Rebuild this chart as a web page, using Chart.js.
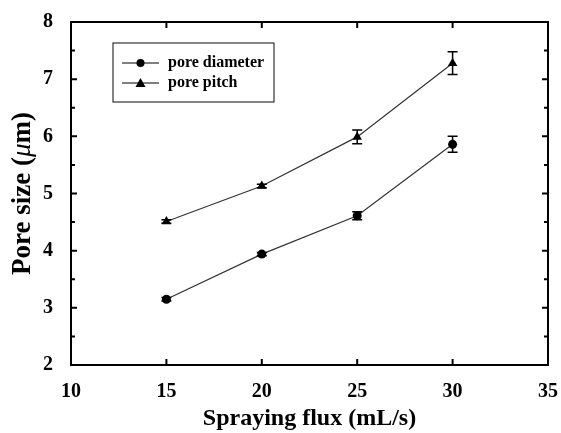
<!DOCTYPE html>
<html lang="en">
<head>
    <meta charset="UTF-8">
    <title>Pore size vs spraying flux</title>
    <style>
        html, body { margin: 0; padding: 0; background: #fff; }
        #wrap { width: 561px; height: 433px; }
    </style>
</head>
<body>
    <div id="wrap"><canvas id="pore-chart" width="561" height="433"></canvas></div>

    <script src="https://cdn.jsdelivr.net/npm/chart.js"></script>
    <script>
        // data
        const flux = [15, 20, 25, 30];
        const poreDiameter = [3.15, 3.94, 4.61, 5.86];
        const diameterErr = [0.03, 0.03, 0.07, 0.14];
        const porePitch = [4.51, 5.13, 5.99, 7.28];
        const pitchErr = [0.03, 0.03, 0.12, 0.20];
        const xTicks = [10, 15, 20, 25, 30, 35];
        const yTicks = [2, 3, 4, 5, 6, 7, 8];

        const serif = '"Liberation Serif", "DejaVu Serif", serif';

        function toPoints(xs, ys) {
            return xs.map((x, i) => ({ x: x, y: ys[i] }));
        }

        // error bars, inward ticks, frame, legend and y title
        const decorations = {
            id: 'decorations',
            afterDatasetsDraw(chart) {
                const ctx = chart.ctx;
                const xs = chart.scales.x, ys = chart.scales.y;
                const a = chart.chartArea;
                ctx.save();

                // error bars
                ctx.strokeStyle = '#000';
                ctx.lineWidth = 1.5;
                [[poreDiameter, diameterErr], [porePitch, pitchErr]].forEach(([vals, errs]) => {
                    flux.forEach((f, i) => {
                        const px = xs.getPixelForValue(f);
                        const top = ys.getPixelForValue(vals[i] + errs[i]);
                        const bot = ys.getPixelForValue(vals[i] - errs[i]);
                        ctx.beginPath();
                        ctx.moveTo(px, top); ctx.lineTo(px, bot);
                        ctx.moveTo(px - 5, top); ctx.lineTo(px + 5, top);
                        ctx.moveTo(px - 5, bot); ctx.lineTo(px + 5, bot);
                        ctx.stroke();
                    });
                });

                // frame
                ctx.lineWidth = 2;
                ctx.strokeRect(a.left, a.top, a.right - a.left, a.bottom - a.top);

                // ticks pointing inward
                ctx.lineWidth = 2;
                ctx.beginPath();
                xTicks.forEach(v => {
                    const px = xs.getPixelForValue(v);
                    ctx.moveTo(px, a.bottom); ctx.lineTo(px, a.bottom - 6);
                    ctx.moveTo(px, a.top); ctx.lineTo(px, a.top + 6);
                });
                yTicks.forEach(v => {
                    const py = ys.getPixelForValue(v);
                    ctx.moveTo(a.left, py); ctx.lineTo(a.left + 6, py);
                    ctx.moveTo(a.right, py); ctx.lineTo(a.right - 6, py);
                    if (v < 8) {
                        const pm = ys.getPixelForValue(v + 0.5);
                        ctx.moveTo(a.left, pm); ctx.lineTo(a.left + 4, pm);
                        ctx.moveTo(a.right, pm); ctx.lineTo(a.right - 4, pm);
                    }
                });
                ctx.stroke();

                // legend
                const lx = 113, ly = 43, lw = 161, lh = 59;
                ctx.lineWidth = 1.2;
                ctx.strokeStyle = '#333';
                ctx.strokeRect(lx, ly, lw, lh);
                ctx.font = 'bold 16px ' + serif;
                ctx.textBaseline = 'middle';
                ctx.textAlign = 'left';
                ctx.fillStyle = '#000';
                const rows = [
                    { label: 'pore diameter', y: 63, shape: 'circle' },
                    { label: 'pore pitch', y: 83, shape: 'triangle' }
                ];
                rows.forEach(r => {
                    ctx.strokeStyle = '#000';
                    ctx.lineWidth = 1.2;
                    ctx.beginPath();
                    ctx.moveTo(122, r.y); ctx.lineTo(159, r.y);
                    ctx.stroke();
                    ctx.beginPath();
                    if (r.shape === 'circle') {
                        ctx.arc(140.5, r.y, 4, 0, Math.PI * 2);
                    } else {
                        ctx.moveTo(140.5, r.y - 5);
                        ctx.lineTo(145.5, r.y + 4);
                        ctx.lineTo(135.5, r.y + 4);
                        ctx.closePath();
                    }
                    ctx.fill();
                    ctx.fillText(r.label, 168, r.y);
                });

                // y title with italic mu
                ctx.translate(23, (a.top + a.bottom) / 2);
                ctx.rotate(-Math.PI / 2);
                const parts = [
                    ['Pore size (', 'bold 27px ' + serif],
                    ['\u03bc', 'italic 27px ' + serif],
                    ['m)', 'bold 27px ' + serif]
                ];
                let total = 0;
                parts.forEach(p => { ctx.font = p[1]; total += ctx.measureText(p[0]).width; });
                let cx = -total / 2;
                parts.forEach(p => {
                    ctx.font = p[1];
                    ctx.fillText(p[0], cx, 0);
                    cx += ctx.measureText(p[0]).width;
                });
                ctx.restore();
            }
        };

        const ctx = document.getElementById('pore-chart').getContext('2d');
        const poreChart = new Chart(ctx, {
            type: 'scatter',
            data: {
                datasets: [{
                    label: 'pore diameter',
                    data: toPoints(flux, poreDiameter),
                    showLine: true,
                    borderColor: '#333',
                    borderWidth: 1.2,
                    pointStyle: 'circle',
                    pointRadius: 4.5,
                    pointBackgroundColor: '#000',
                    pointBorderColor: '#000',
                    pointBorderWidth: 0
                }, {
                    label: 'pore pitch',
                    data: toPoints(flux, porePitch),
                    showLine: true,
                    borderColor: '#333',
                    borderWidth: 1.2,
                    pointStyle: 'triangle',
                    pointRadius: 5.5,
                    pointBackgroundColor: '#000',
                    pointBorderColor: '#000',
                    pointBorderWidth: 0
                }]
            },
            options: {
                responsive: false,
                animation: false,
                layout: { autoPadding: false, padding: { top: 22, right: 13, left: 0, bottom: 0 } },
                plugins: {
                    legend: { display: false },
                    tooltip: { enabled: false }
                },
                scales: {
                    x: {
                        type: 'linear',
                        min: 10,
                        max: 35,
                        afterBuildTicks: s => { s.ticks = xTicks.map(v => ({ value: v })); },
                        afterFit: s => { s.height = 68; s.paddingLeft = 0; s.paddingRight = 0; },
                        grid: { display: false },
                        border: { display: false },
                        ticks: {
                            color: '#000',
                            padding: 7,
                            font: { family: serif, size: 20, weight: 'bold' }
                        },
                        title: {
                            display: true,
                            text: 'Spraying flux (mL/s)',
                            color: '#000',
                            padding: { top: 0, bottom: 0 },
                            font: { family: serif, size: 24, weight: 'bold' }
                        }
                    },
                    y: {
                        type: 'linear',
                        min: 2,
                        max: 8,
                        afterBuildTicks: s => { s.ticks = yTicks.map(v => ({ value: v })); },
                        afterFit: s => { s.width = 71; s.paddingTop = 0; s.paddingBottom = 0; },
                        grid: { display: false },
                        border: { display: false },
                        ticks: {
                            color: '#000',
                            padding: 10,
                            font: { family: serif, size: 20, weight: 'bold' }
                        }
                    }
                }
            },
            plugins: [decorations]
        });
    </script>
</body>
</html>
